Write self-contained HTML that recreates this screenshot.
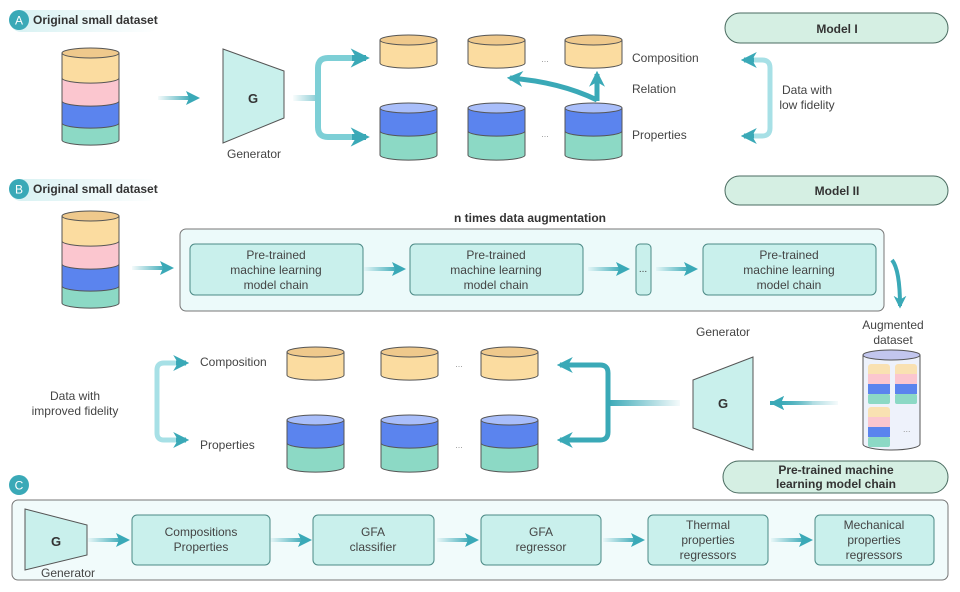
<!DOCTYPE html>
<html><head><meta charset="utf-8"><style>
html,body{margin:0;padding:0;background:#fff}
svg{display:block}
text{font-family:"Liberation Sans",sans-serif;fill:#444;font-size:12px}
.b{font-weight:bold;fill:#333}
.c{text-anchor:middle}
</style></head><body>
<svg width="960" height="592" viewBox="0 0 960 592" xmlns="http://www.w3.org/2000/svg">
<defs>
<marker id="ah" viewBox="0 0 10 10" refX="8" refY="5" markerWidth="3.2" markerHeight="3.2" orient="auto-start-reverse"><path d="M0,0 L10,5 L0,10 L3,5 z" fill="#3aa9b7"/></marker>
<linearGradient id="fadeR" x1="0" x2="1"><stop offset="0" stop-color="#3aa9b7" stop-opacity="0.05"/><stop offset="1" stop-color="#3aa9b7"/></linearGradient>
<linearGradient id="fadeL" x1="1" x2="0"><stop offset="0" stop-color="#3aa9b7" stop-opacity="0.05"/><stop offset="1" stop-color="#3aa9b7"/></linearGradient>
<linearGradient id="band" x1="0" x2="1"><stop offset="0" stop-color="#d6f1f2"/><stop offset="1" stop-color="#d6f1f2" stop-opacity="0"/></linearGradient>
<g id="cylY"><path d="M0,5 v23 a28,5 0 0 0 57,0 v-23" fill="#fbdca0" stroke="#555" stroke-width="1"/><ellipse cx="28.5" cy="5" rx="28.5" ry="5" fill="#efc98c" stroke="#555"/></g>
<g id="cylBG"><path d="M0,28 v24 a28,5 0 0 0 57,0 v-24" fill="#8cd9c5" stroke="#555"/><path d="M0,5 v23 a28,5 0 0 0 57,0 v-23" fill="#5b84ee" stroke="#555"/><ellipse cx="28.5" cy="5" rx="28.5" ry="5" fill="#a9befa" stroke="#555"/></g>
<g id="stack"><path d="M0,75 v17 a28,5 0 0 0 57,0 v-17" fill="#8cd9c5" stroke="#555"/><path d="M0,53 v22 a28,5 0 0 0 57,0 v-22" fill="#5b84ee" stroke="#555"/><path d="M0,30 v23 a28,5 0 0 0 57,0 v-23" fill="#fbc6cf" stroke="#555"/><path d="M0,5 v25 a28,5 0 0 0 57,0 v-25" fill="#fbdca0" stroke="#555"/><ellipse cx="28.5" cy="5" rx="28.5" ry="5" fill="#efc98c" stroke="#555"/></g>
<g id="mini"><rect x="0" y="0" width="22" height="40" rx="3" fill="#fbdca0" opacity="0.8"/><rect x="0" y="10" width="22" height="10" fill="#fbc6cf"/><rect x="0" y="20" width="22" height="10" fill="#5b84ee"/><rect x="0" y="30" width="22" height="10" rx="2" fill="#8cd9c5"/></g>
<g id="rArrow"><rect x="0" y="-2" width="34" height="4" fill="url(#fadeR)"/><polygon points="28,-7 42,0 28,7 31,0" fill="#3aa9b7"/></g>
<g id="lArrow"><rect x="8" y="-2" width="34" height="4" fill="url(#fadeL)"/><polygon points="14,-7 0,0 14,7 11,0" fill="#3aa9b7"/></g>
</defs>

<!-- Section A -->
<rect x="10" y="10" width="150" height="22" rx="11" fill="url(#band)"/>
<circle cx="19" cy="20" r="10" fill="#3aa9b7"/><text x="19" y="24.5" class="c" style="fill:#fff;font-size:12px">A</text>
<text x="33" y="24" class="b">Original small dataset</text>
<use href="#stack" x="62" y="48"/>
<use href="#rArrow" x="158" y="98"/>
<polygon points="223,49 284,71 284,118 223,143" fill="#c9f0ec" stroke="#555"/>
<text x="253" y="103" class="c b" style="font-size:13px">G</text>
<text x="254" y="158" class="c">Generator</text>
<rect x="293" y="95" width="25" height="6" fill="url(#fadeR)" opacity="0.6"/>
<path d="M360,58 H328 Q318,58 318,68 V127 Q318,137 328,137 H360" fill="none" stroke="#7dcfd6" stroke-width="6"/>
<path d="M352,58 H366" stroke="#3aa9b7" stroke-width="6" marker-end="url(#ah)"/>
<path d="M352,137 H366" stroke="#3aa9b7" stroke-width="6" marker-end="url(#ah)"/>
<use href="#cylY" x="380" y="35"/><use href="#cylY" x="468" y="35"/><use href="#cylY" x="565" y="35"/>
<use href="#cylBG" x="380" y="103"/><use href="#cylBG" x="468" y="103"/><use href="#cylBG" x="565" y="103"/>
<text x="545" y="62" class="c" style="font-size:9px;fill:#999">...</text>
<text x="545" y="137" class="c" style="font-size:9px;fill:#999">...</text>
<path d="M597,100 Q560,82 510,78" fill="none" stroke="#3aa9b7" stroke-width="5" marker-end="url(#ah)"/>
<path d="M597,101 V74" stroke="#3aa9b7" stroke-width="5" marker-end="url(#ah)"/>
<text x="632" y="62">Composition</text>
<text x="632" y="93">Relation</text>
<text x="632" y="139">Properties</text>
<rect x="725" y="13" width="223" height="30" rx="15" fill="#d5efe3" stroke="#4a6b60"/>
<text x="837" y="33" class="c b">Model I</text>
<path d="M752,60 H762 Q770,60 770,68 V128 Q770,136 762,136 H752" fill="none" stroke="#a7e0e6" stroke-width="5"/>
<path d="M754,60 H744" stroke="#3aa9b7" stroke-width="5" marker-end="url(#ah)"/>
<path d="M754,136 H744" stroke="#3aa9b7" stroke-width="5" marker-end="url(#ah)"/>
<text x="807" y="94" class="c">Data with</text>
<text x="807" y="109" class="c">low fidelity</text>

<!-- Section B -->
<rect x="10" y="179" width="150" height="22" rx="11" fill="url(#band)"/>
<circle cx="19" cy="189" r="10" fill="#3aa9b7"/><text x="19" y="193.5" class="c" style="fill:#fff">B</text>
<text x="33" y="193" class="b">Original small dataset</text>
<rect x="725" y="176" width="223" height="29" rx="14.5" fill="#d5efe3" stroke="#4a6b60"/>
<text x="837" y="195" class="c b">Model II</text>
<text x="530" y="222" class="c b">n times data augmentation</text>
<use href="#stack" x="62" y="211"/>
<use href="#rArrow" x="132" y="268"/>
<rect x="180" y="229" width="704" height="82" rx="6" fill="#ecfafa" stroke="#777"/>
<g fill="#c9f0ec" stroke="#4c8a86">
<rect x="190" y="244" width="173" height="51" rx="5"/>
<rect x="410" y="244" width="173" height="51" rx="5"/>
<rect x="636" y="244" width="15" height="51" rx="4"/>
<rect x="703" y="244" width="173" height="51" rx="5"/>
</g>
<text x="276" y="259" class="c">Pre-trained</text><text x="276" y="274" class="c">machine learning</text><text x="276" y="289" class="c">model chain</text>
<text x="496" y="259" class="c">Pre-trained</text><text x="496" y="274" class="c">machine learning</text><text x="496" y="289" class="c">model chain</text>
<text x="643" y="272" class="c" style="font-size:10px">...</text>
<text x="789" y="259" class="c">Pre-trained</text><text x="789" y="274" class="c">machine learning</text><text x="789" y="289" class="c">model chain</text>
<use href="#rArrow" x="364" y="269"/>
<use href="#rArrow" x="588" y="269"/>
<use href="#rArrow" x="656" y="269"/>
<path d="M892,260 Q900,270 900,306" fill="none" stroke="#3aa9b7" stroke-width="4" marker-end="url(#ah)"/>
<text x="893" y="329" class="c">Augmented</text>
<text x="893" y="344" class="c">dataset</text>
<path d="M863,355 V444 a28.5,6 0 0 0 57,0 V355" fill="#eef2fb" stroke="#555"/>
<ellipse cx="891.5" cy="355" rx="28.5" ry="5" fill="#c2c6ee" stroke="#555"/>
<use href="#mini" x="868" y="364"/><use href="#mini" x="895" y="364"/><use href="#mini" x="868" y="407"/>
<text x="903" y="432" style="font-size:9px;fill:#999">...</text>
<use href="#lArrow" x="770" y="403" transform="translate(0,0)"/>
<rect x="770" y="401" width="68" height="4" fill="url(#fadeL)"/>
<polygon points="784,396 770,403 784,410 781,403" fill="#3aa9b7"/>
<polygon points="693,380 753,357 753,450 693,428" fill="#c9f0ec" stroke="#555"/>
<text x="723" y="408" class="c b" style="font-size:13px">G</text>
<text x="723" y="336" class="c">Generator</text>
<rect x="608" y="400" width="72" height="6" fill="url(#fadeL)"/>
<path d="M570,365 H600 Q608,365 608,373 V432 Q608,440 600,440 H570" fill="none" stroke="#3aa9b7" stroke-width="5"/>
<path d="M572,365 H560" stroke="#3aa9b7" stroke-width="5" marker-end="url(#ah)"/>
<path d="M572,440 H560" stroke="#3aa9b7" stroke-width="5" marker-end="url(#ah)"/>
<use href="#cylY" x="287" y="347"/><use href="#cylY" x="381" y="347"/><use href="#cylY" x="481" y="347"/>
<use href="#cylBG" x="287" y="415"/><use href="#cylBG" x="381" y="415"/><use href="#cylBG" x="481" y="415"/>
<text x="459" y="367" class="c" style="font-size:9px;fill:#999">...</text>
<text x="459" y="448" class="c" style="font-size:9px;fill:#999">...</text>
<text x="200" y="366">Composition</text>
<text x="200" y="449">Properties</text>
<path d="M178,363 H164 Q157,363 157,370 V433 Q157,440 164,440 H178" fill="none" stroke="#a7e0e6" stroke-width="5"/>
<path d="M176,363 H186" stroke="#3aa9b7" stroke-width="5" marker-end="url(#ah)"/>
<path d="M176,440 H186" stroke="#3aa9b7" stroke-width="5" marker-end="url(#ah)"/>
<text x="75" y="400" class="c">Data with</text>
<text x="75" y="415" class="c">improved fidelity</text>
<rect x="723" y="461" width="225" height="32" rx="16" fill="#d5efe3" stroke="#4a6b60"/>
<text x="836" y="474" class="c b">Pre-trained machine</text>
<text x="836" y="488" class="c b">learning model chain</text>

<!-- Section C -->
<circle cx="19" cy="485" r="10" fill="#3aa9b7"/><text x="19" y="489.5" class="c" style="fill:#fff">C</text>
<rect x="12" y="500" width="936" height="80" rx="6" fill="#f1fbfb" stroke="#777"/>
<polygon points="25,509 87,525 87,555 25,570" fill="#c9f0ec" stroke="#555"/>
<text x="56" y="546" class="c b" style="font-size:13px">G</text>
<text x="68" y="577" class="c">Generator</text>
<g fill="#c9f0ec" stroke="#4c8a86">
<rect x="132" y="515" width="138" height="50" rx="5"/>
<rect x="313" y="515" width="121" height="50" rx="5"/>
<rect x="481" y="515" width="120" height="50" rx="5"/>
<rect x="648" y="515" width="120" height="50" rx="5"/>
<rect x="815" y="515" width="119" height="50" rx="5"/>
</g>
<text x="201" y="536" class="c">Compositions</text><text x="201" y="551" class="c">Properties</text>
<text x="373" y="536" class="c">GFA</text><text x="373" y="551" class="c">classifier</text>
<text x="541" y="536" class="c">GFA</text><text x="541" y="551" class="c">regressor</text>
<text x="708" y="529" class="c">Thermal</text><text x="708" y="544" class="c">properties</text><text x="708" y="559" class="c">regressors</text>
<text x="874" y="529" class="c">Mechanical</text><text x="874" y="544" class="c">properties</text><text x="874" y="559" class="c">regressors</text>
<use href="#rArrow" x="88" y="540"/>
<use href="#rArrow" x="270" y="540"/>
<use href="#rArrow" x="437" y="540"/>
<use href="#rArrow" x="603" y="540"/>
<use href="#rArrow" x="771" y="540"/>
</svg>
</body></html>
